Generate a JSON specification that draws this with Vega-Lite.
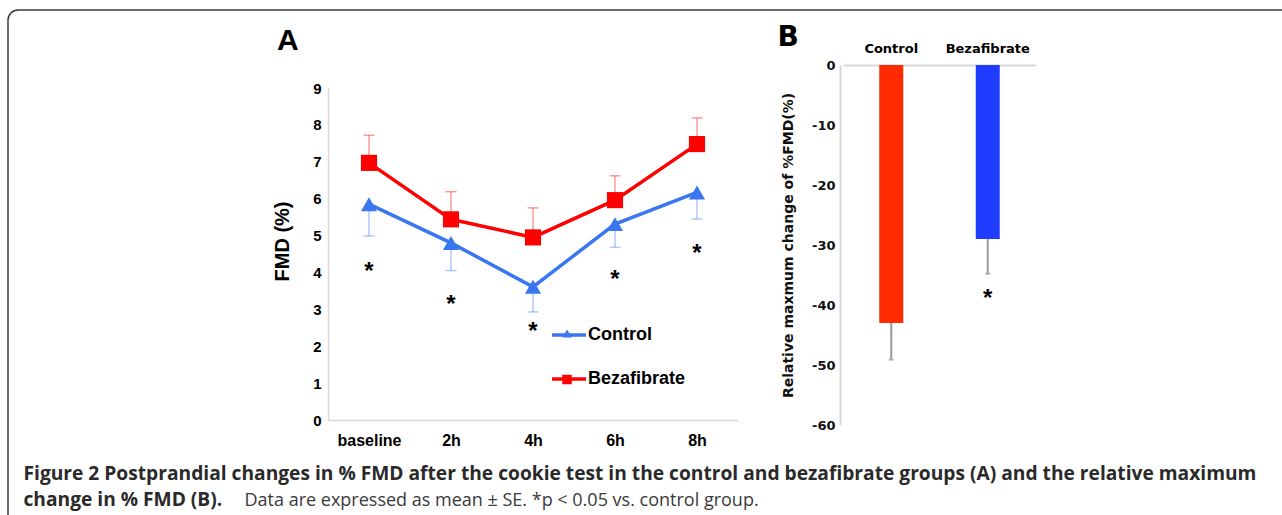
{
  "$schema": "https://vega.github.io/schema/vega-lite/v6.json",
  "width": 1294,
  "height": 525,
  "autosize": {"type": "none"},
  "padding": {"left": 8, "top": 10, "right": -20, "bottom": -20},
  "background": "white",
  "config": {
    "view": {"stroke": "#3a3a3a", "strokeWidth": 1.5, "cornerRadius": 10},
    "axis": {"ticks": false, "grid": false}
  },
  "title": {
    "text": "A",
    "anchor": "start",
    "frame": "group",
    "font": "Liberation Sans",
    "fontSize": 30,
    "fontWeight": "bold",
    "color": "#000000",
    "baseline": "alphabetic",
    "offset": 0,
    "dx": 269,
    "dy": 70
  },
  "datasets": {
    "fmd": [
      {"time": "baseline", "group": "Control", "mean": 5.85, "err": 4.99},
      {"time": "2h", "group": "Control", "mean": 4.8, "err": 4.05},
      {"time": "4h", "group": "Control", "mean": 3.61, "err": 2.93},
      {"time": "6h", "group": "Control", "mean": 5.31, "err": 4.68},
      {"time": "8h", "group": "Control", "mean": 6.17, "err": 5.45},
      {"time": "baseline", "group": "Bezafibrate", "mean": 6.97, "err": 7.72},
      {"time": "2h", "group": "Bezafibrate", "mean": 5.44, "err": 6.19},
      {"time": "4h", "group": "Bezafibrate", "mean": 4.95, "err": 5.75},
      {"time": "6h", "group": "Bezafibrate", "mean": 5.96, "err": 6.62},
      {"time": "8h", "group": "Bezafibrate", "mean": 7.48, "err": 8.19}
    ],
    "starsA": [
      {"time": "baseline", "star": 4.17},
      {"time": "2h", "star": 3.27},
      {"time": "4h", "star": 2.55},
      {"time": "6h", "star": 3.97},
      {"time": "8h", "star": 4.67}
    ],
    "rel": [
      {"group": "Control", "change": -43, "err": -49.1},
      {"group": "Bezafibrate", "change": -29, "err": -34.8}
    ],
    "starsB": [
      {"group": "Bezafibrate", "star": -38}
    ]
  },
  "layer": [
    {
      "data": {"name": "fmd"},
      "layer": [
        {
          "mark": {"type": "rule", "strokeWidth": 1.5, "opacity": 0.4},
          "encoding": {
            "x": {"field": "time", "type": "nominal", "scale": {"type": "point", "domain": ["baseline", "2h", "4h", "6h", "8h"], "range": [320, 730], "padding": 0.5}, "axis": null},
            "y": {"field": "mean", "type": "quantitative", "scale": {"domain": [0, 9], "range": [410, 78], "nice": false, "zero": false}, "axis": null},
            "y2": {"field": "err"},
            "color": {"field": "group", "type": "nominal", "scale": {"domain": ["Control", "Bezafibrate"], "range": ["#3a75f2", "#ff0000"]}, "legend": null}
          }
        },
        {
          "mark": {"type": "tick", "thickness": 1.5, "size": 11, "opacity": 0.4, "orient": "horizontal"},
          "encoding": {
            "x": {"field": "time", "type": "nominal", "scale": {"type": "point", "domain": ["baseline", "2h", "4h", "6h", "8h"], "range": [320, 730], "padding": 0.5}, "axis": null},
            "y": {"field": "err", "type": "quantitative", "scale": {"domain": [0, 9], "range": [410, 78], "nice": false, "zero": false}, "axis": null},
            "color": {"field": "group", "type": "nominal", "scale": {"domain": ["Control", "Bezafibrate"], "range": ["#3a75f2", "#ff0000"]}, "legend": null}
          }
        },
        {
          "mark": {"type": "line", "strokeWidth": 3.5},
          "encoding": {
            "x": {
              "field": "time", "type": "nominal",
              "scale": {"type": "point", "domain": ["baseline", "2h", "4h", "6h", "8h"], "range": [320, 730], "padding": 0.5},
              "axis": {
                "orient": "bottom", "offset": -115, "labelAngle": 0,
                "labelFont": "Liberation Sans", "labelFontSize": 16, "labelFontWeight": "bold", "labelColor": "#000000", "labelPadding": 12,
                "domainColor": "#d9d9d9", "domainWidth": 1.5,
                "title": ["Figure 2 Postprandial changes in % FMD after the cookie test in the control and bezafibrate groups (A) and the relative maximum", "change in % FMD (B)."],
                "titleFont": "Open Sans", "titleFontSize": 19.2, "titleFontWeight": "bold", "titleColor": "#2a2a2a",
                "titleAlign": "left", "titleAnchor": "start", "titleBaseline": "alphabetic", "titleX": 15, "titleY": 59, "titleLineHeight": 26
              }
            },
            "y": {
              "field": "mean", "type": "quantitative",
              "scale": {"domain": [0, 9], "range": [410, 78], "nice": false, "zero": false},
              "axis": {
                "orient": "left", "offset": -320, "values": [0, 1, 2, 3, 4, 5, 6, 7, 8, 9],
                "labelFont": "Liberation Sans", "labelFontSize": 15, "labelFontWeight": "bold", "labelColor": "#000000", "labelPadding": 7,
                "domainColor": "#d9d9d9", "domainWidth": 1.5,
                "title": "FMD (%)", "titleFont": "Liberation Sans", "titleFontSize": 20, "titleFontWeight": "bold", "titleColor": "#000000",
                "titlePadding": 20, "titleY": 231
              }
            },
            "color": {
              "field": "group", "type": "nominal",
              "scale": {"domain": ["Control", "Bezafibrate"], "range": ["#3a75f2", "#ff0000"]},
              "legend": {
                "orient": "none", "legendX": 542, "legendY": 306, "title": null,
                "symbolType": "stroke", "symbolSize": 1156, "symbolStrokeWidth": 3.5, "symbolOpacity": 1,
                "labelFont": "Liberation Sans", "labelFontSize": 18, "labelFontWeight": "bold", "labelColor": "#000000",
                "labelOffset": 0, "rowPadding": 16, "padding": 0
              }
            }
          }
        },
        {
          "mark": {"type": "point", "filled": true, "size": 260, "opacity": 1},
          "encoding": {
            "x": {"field": "time", "type": "nominal", "scale": {"type": "point", "domain": ["baseline", "2h", "4h", "6h", "8h"], "range": [320, 730], "padding": 0.5}, "axis": null},
            "y": {"field": "mean", "type": "quantitative", "scale": {"domain": [0, 9], "range": [410, 78], "nice": false, "zero": false}, "axis": null},
            "shape": {"field": "group", "type": "nominal", "scale": {"domain": ["Control", "Bezafibrate"], "range": ["triangle-up", "square"]}, "legend": null},
            "color": {
              "field": "group", "type": "nominal",
              "scale": {"domain": ["Control", "Bezafibrate"], "range": ["#3a75f2", "#ff0000"]},
              "legend": {
                "orient": "none", "legendX": 554, "legendY": 318.5, "title": null,
                "symbolSize": 90, "symbolStrokeWidth": 0, "symbolOpacity": 1,
                "labelExpr": "''", "labelFontSize": 1, "labelOffset": 0,
                "rowPadding": 36, "padding": 0
              }
            }
          }
        },
        {
          "data": {"name": "starsA"},
          "mark": {"type": "text", "text": "*", "font": "Liberation Sans", "fontSize": 24, "fontWeight": "bold", "baseline": "middle", "dy": 6, "color": "#000000"},
          "encoding": {
            "x": {"field": "time", "type": "nominal", "scale": {"type": "point", "domain": ["baseline", "2h", "4h", "6h", "8h"], "range": [320, 730], "padding": 0.5}, "axis": null},
            "y": {"field": "star", "type": "quantitative", "scale": {"domain": [0, 9], "range": [410, 78], "nice": false, "zero": false}, "axis": null}
          }
        }
      ],
      "resolve": {
        "axis": {"x": "independent", "y": "independent"},
        "legend": {"color": "independent", "shape": "independent"}
      }
    },
    {
      "data": {"name": "rel"},
      "layer": [
        {
          "mark": {"type": "bar", "width": 24},
          "encoding": {
            "x": {
              "field": "group", "type": "nominal",
              "scale": {"type": "band", "domain": ["Control", "Bezafibrate"], "range": [835, 1028], "paddingInner": 0, "paddingOuter": 0},
              "axis": {
                "orient": "top", "offset": -55, "labelAngle": 0,
                "labelFont": "DejaVu Sans", "labelFontSize": 13, "labelFontWeight": "bold", "labelColor": "#000000", "labelPadding": 10,
                "domainColor": "#d9d9d9", "domainWidth": 2,
                "title": "B", "titleFont": "DejaVu Sans", "titleFontSize": 28, "titleFontWeight": "bold", "titleColor": "#000000",
                "titleAlign": "left", "titleBaseline": "alphabetic", "titleX": 769, "titleY": -20
              }
            },
            "y": {
              "field": "change", "type": "quantitative",
              "scale": {"domain": [-60, 0], "range": [415, 55], "nice": false},
              "axis": {
                "orient": "left", "offset": -832, "values": [0, -10, -20, -30, -40, -50, -60],
                "labelExpr": "'' + datum.value",
                "labelFont": "DejaVu Sans", "labelFontSize": 13, "labelFontWeight": "bold", "labelColor": "#111111", "labelPadding": 5,
                "domainColor": "#d9d9d9", "domainWidth": 2,
                "title": "Relative maxmum change of %FMD(%)", "titleFont": "DejaVu Sans", "titleFontSize": 14, "titleFontWeight": "bold", "titleColor": "#111111",
                "titlePadding": 16
              }
            },
            "color": {"field": "group", "type": "nominal", "scale": {"domain": ["Control", "Bezafibrate"], "range": ["#ff2a00", "#1f3dff"]}, "legend": null}
          }
        },
        {
          "mark": {"type": "rule", "color": "#9a9a9a", "strokeWidth": 2},
          "encoding": {
            "x": {
              "field": "group", "type": "nominal",
              "scale": {"type": "band", "domain": ["Control", "Bezafibrate"], "range": [835, 1028], "paddingInner": 0, "paddingOuter": 0},
              "axis": {
                "orient": "bottom", "labels": false, "domain": false, "ticks": false,
                "title": "Data are expressed as mean ± SE. *p < 0.05 vs. control group.",
                "titleFont": "Open Sans", "titleFontSize": 18, "titleFontWeight": "normal", "titleColor": "#3a3a3a",
                "titleAlign": "left", "titleBaseline": "alphabetic", "titleX": 236, "titleY": -30
              }
            },
            "y": {"field": "change", "type": "quantitative", "scale": {"domain": [-60, 0], "range": [415, 55], "nice": false}, "axis": null},
            "y2": {"field": "err"}
          }
        },
        {
          "mark": {"type": "tick", "color": "#9a9a9a", "thickness": 2, "size": 5, "orient": "horizontal"},
          "encoding": {
            "x": {"field": "group", "type": "nominal", "scale": {"type": "band", "domain": ["Control", "Bezafibrate"], "range": [835, 1028], "paddingInner": 0, "paddingOuter": 0}, "axis": null},
            "y": {"field": "err", "type": "quantitative", "scale": {"domain": [-60, 0], "range": [415, 55], "nice": false}, "axis": null}
          }
        },
        {
          "data": {"name": "starsB"},
          "mark": {"type": "text", "text": "*", "font": "Liberation Sans", "fontSize": 24, "fontWeight": "bold", "baseline": "middle", "dy": 6, "color": "#000000"},
          "encoding": {
            "x": {"field": "group", "type": "nominal", "scale": {"type": "band", "domain": ["Control", "Bezafibrate"], "range": [835, 1028], "paddingInner": 0, "paddingOuter": 0}, "axis": null},
            "y": {"field": "star", "type": "quantitative", "scale": {"domain": [-60, 0], "range": [415, 55], "nice": false}, "axis": null}
          }
        }
      ],
      "resolve": {"axis": {"x": "independent", "y": "independent"}}
    }
  ],
  "resolve": {
    "scale": {"x": "independent", "y": "independent", "color": "independent", "shape": "independent"},
    "axis": {"x": "independent", "y": "independent"},
    "legend": {"color": "independent", "shape": "independent"}
  }
}
